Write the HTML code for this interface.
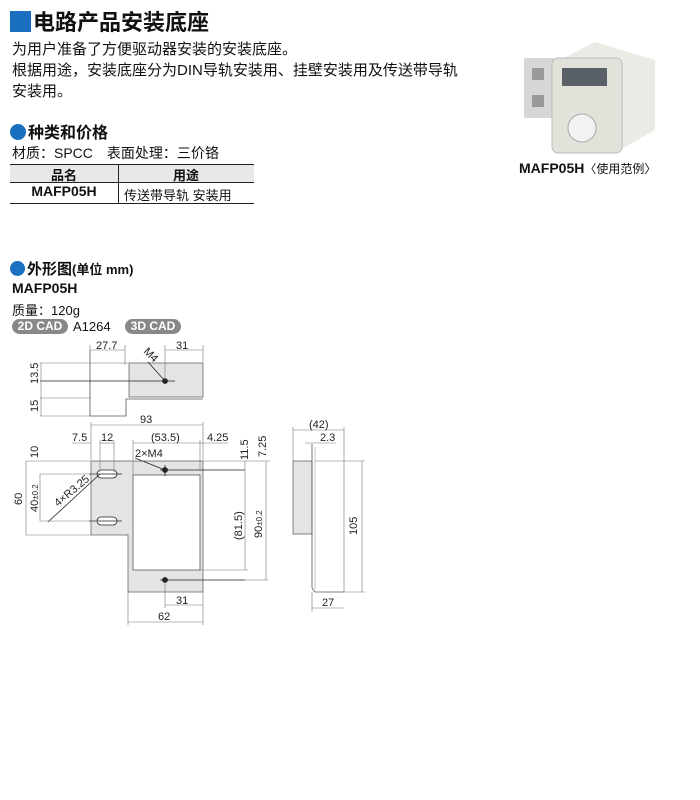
<!DOCTYPE html>
<html><head><meta charset="utf-8"><style>
body{margin:0;width:700px;height:800px;background:#fff;position:relative;font-family:"Liberation Sans","Noto Sans CJK SC",sans-serif;color:#111;overflow:hidden}
.a{position:absolute;white-space:nowrap}
</style></head><body>
<div class="a" style="left:10px;top:5px;font-size:22px;font-weight:bold"><span style="display:inline-block;width:21px;height:21px;background:#1a6fc0;vertical-align:-2px;margin-right:2px"></span>电路产品安装底座</div>
<div class="a" style="left:12px;top:39px;font-size:15px;line-height:21px">为用户准备了方便驱动器安装的安装底座。<br>根据用途，安装底座分为DIN导轨安装用、挂壁安装用及传送带导轨<br>安装用。</div>
<div class="a" style="left:10px;top:119px;font-size:16px;font-weight:bold"><span style="display:inline-block;width:16px;height:16px;border-radius:50%;background:#1a6fc0;vertical-align:-2px;margin-right:2px"></span>种类和价格</div>
<div class="a" style="left:12px;top:143px;font-size:14px">材质：SPCC　表面处理：三价铬</div>
<div class="a" style="left:10px;top:164px;width:244px;height:38px;border-top:1.5px solid #222;border-bottom:1.5px solid #222"></div>
<div class="a" style="left:10px;top:165px;width:244px;height:17px;background:#e8e8e8;border-bottom:1px solid #222"></div>
<div class="a" style="left:118px;top:165px;width:1px;height:38px;background:#222"></div>
<div class="a" style="left:10px;top:165px;width:108px;text-align:center;font-size:13px;font-weight:bold">品名</div>
<div class="a" style="left:118px;top:165px;width:136px;text-align:center;font-size:13px;font-weight:bold">用途</div>
<div class="a" style="left:10px;top:183px;width:108px;text-align:center;font-size:14px;font-weight:bold">MAFP05H</div>
<div class="a" style="left:124px;top:185px;font-size:13px">传送带导轨 安装用</div>

<svg class="a" style="left:520px;top:40px" width="140" height="115">
<rect x="4" y="18" width="30" height="60" fill="#d4d6d8"/>
<rect x="12" y="28" width="12" height="12" fill="#999"/><rect x="12" y="55" width="12" height="12" fill="#999"/>
<polygon points="40,20 75,2 135,20 135,90 100,110 40,95" fill="#eceae4"/>
<rect x="32" y="18" width="70" height="95" rx="6" fill="#e2e2da" stroke="#bbb"/>
<rect x="42" y="28" width="45" height="18" fill="#5a6068"/>
<circle cx="62" cy="88" r="14" fill="#f2f2f2" stroke="#aaa"/>
</svg>
<div class="a" style="left:519px;top:160px;font-size:14px;font-weight:bold">MAFP05H<span style="font-weight:normal;font-size:12px">〈使用范例〉</span></div>

<div class="a" style="left:10px;top:258px;font-size:15px;font-weight:bold"><span style="display:inline-block;width:15px;height:15px;border-radius:50%;background:#1a6fc0;vertical-align:-2px;margin-right:2px"></span>外形图<span style="font-size:13px">(单位 mm)</span></div>
<div class="a" style="left:12px;top:280px;font-size:14px;font-weight:bold">MAFP05H</div>
<div class="a" style="left:12px;top:300px;font-size:13px">质量：120g</div>
<div class="a" style="left:12px;top:319px;width:56px;height:15px;border-radius:8px;background:#888;color:#fff;font-size:12px;font-weight:bold;text-align:center;line-height:15px">2D CAD</div>
<div class="a" style="left:73px;top:319px;font-size:13px">A1264</div>
<div class="a" style="left:125px;top:319px;width:56px;height:15px;border-radius:8px;background:#888;color:#fff;font-size:12px;font-weight:bold;text-align:center;line-height:15px">3D CAD</div>

<svg class="a" style="left:0;top:0" width="700" height="800" font-family="Liberation Sans,sans-serif" font-size="11" fill="none" stroke="#222" stroke-width="0.8">
<rect x="129" y="363" width="74" height="34" fill="#e4e4e4" stroke="#666"/>
<polyline points="90,350 90,416 126,416 126,399 203,399" stroke="#555"/>
<line x1="40" y1="381" x2="175" y2="381"/>
<circle cx="165" cy="381" r="2.5" fill="#222"/>
<line x1="148" y1="362" x2="165" y2="381"/>
<g stroke="#777" stroke-width="0.6">
<line x1="90" y1="345" x2="90" y2="352"/><line x1="125" y1="345" x2="125" y2="365"/><line x1="90" y1="350" x2="125" y2="350"/>
<line x1="165" y1="350" x2="203" y2="350"/><line x1="165" y1="345" x2="165" y2="380"/><line x1="203" y1="345" x2="203" y2="362"/>
<line x1="40" y1="363" x2="128" y2="363"/><line x1="40" y1="398" x2="90" y2="398"/><line x1="40" y1="416" x2="90" y2="416"/>
<line x1="41" y1="363" x2="41" y2="416"/>
</g>
<path d="M91,461 H203 V592 H128 V535 H91 Z" fill="#e4e4e4" stroke="#666"/>
<rect x="133" y="475" width="67" height="95" fill="#fff" stroke="#555"/>
<rect x="97" y="470" width="20" height="8" rx="4" fill="#fff"/>
<rect x="97" y="517" width="20" height="8" rx="4" fill="#fff"/>
<line x1="89" y1="474" x2="122" y2="474"/><line x1="89" y1="521" x2="122" y2="521"/>
<circle cx="165" cy="470" r="2.5" fill="#222"/><circle cx="165" cy="580" r="2.5" fill="#222"/>
<line x1="165" y1="465" x2="165" y2="476"/><line x1="160" y1="580" x2="245" y2="580"/><line x1="160" y1="470" x2="245" y2="470"/>
<line x1="135" y1="458" x2="165" y2="470"/><line x1="48" y1="522" x2="100" y2="474"/>
<g stroke="#777" stroke-width="0.6">
<line x1="91" y1="425" x2="203" y2="425"/><line x1="91" y1="422" x2="91" y2="460"/><line x1="203" y1="422" x2="203" y2="460"/>
<line x1="72" y1="443" x2="91" y2="443"/><line x1="100" y1="443" x2="114" y2="443"/><line x1="100" y1="440" x2="100" y2="472"/><line x1="114" y1="440" x2="114" y2="472"/>
<line x1="133" y1="443" x2="228" y2="443"/><line x1="133" y1="440" x2="133" y2="475"/><line x1="200" y1="440" x2="200" y2="470"/>
<line x1="26" y1="461" x2="270" y2="461"/><line x1="26" y1="535" x2="91" y2="535"/><line x1="26" y1="461" x2="26" y2="535"/>
<line x1="40" y1="474" x2="40" y2="521"/><line x1="40" y1="474" x2="98" y2="474"/><line x1="40" y1="521" x2="98" y2="521"/>
<line x1="245" y1="461" x2="245" y2="570"/><line x1="200" y1="570" x2="248" y2="570"/>
<line x1="266" y1="461" x2="266" y2="580"/><line x1="245" y1="580" x2="268" y2="580"/>
<line x1="165" y1="605" x2="203" y2="605"/><line x1="165" y1="582" x2="165" y2="608"/><line x1="203" y1="592" x2="203" y2="625"/>
<line x1="128" y1="622" x2="203" y2="622"/><line x1="128" y1="592" x2="128" y2="625"/>
</g>
<rect x="293" y="461" width="19" height="73" fill="#e4e4e4" stroke="#666"/>
<polyline points="312,444 312,588 315,592 344,592" stroke="#555"/>
<line x1="315" y1="447" x2="315" y2="589" stroke="#888" stroke-width="0.5"/>
<g stroke="#777" stroke-width="0.6">
<line x1="293" y1="430" x2="344" y2="430"/><line x1="293" y1="427" x2="293" y2="461"/><line x1="344" y1="427" x2="344" y2="592"/>
<line x1="305" y1="443" x2="336" y2="443"/>
<line x1="315" y1="461" x2="365" y2="461"/><line x1="362" y1="461" x2="362" y2="592"/><line x1="344" y1="592" x2="365" y2="592"/>
<line x1="312" y1="608" x2="344" y2="608"/><line x1="312" y1="592" x2="312" y2="612"/>
</g>
<g fill="#222" stroke="none">
<text x="96" y="349">27.7</text><text x="176" y="349">31</text>
<text x="143" y="352" transform="rotate(45 143 352)">M4</text>
<text x="38" y="384" transform="rotate(-90 38 384)">13.5</text>
<text x="38" y="412" transform="rotate(-90 38 412)">15</text>
<text x="140" y="423">93</text>
<text x="72" y="441">7.5</text><text x="101" y="441">12</text><text x="151" y="441">(53.5)</text><text x="207" y="441">4.25</text>
<text x="135" y="457">2×M4</text>
<text x="38" y="458" transform="rotate(-90 38 458)">10</text>
<text x="22" y="505" transform="rotate(-90 22 505)">60</text>
<text x="38" y="512" transform="rotate(-90 38 512)">40<tspan font-size="8">±0.2</tspan></text>
<text x="58" y="507" transform="rotate(-40 58 507)">4×R3.25</text>
<text x="248" y="460" transform="rotate(-90 248 460)">11.5</text>
<text x="266" y="457" transform="rotate(-90 266 457)">7.25</text>
<text x="242" y="540" transform="rotate(-90 242 540)">(81.5)</text>
<text x="262" y="538" transform="rotate(-90 262 538)">90<tspan font-size="8">±0.2</tspan></text>
<text x="176" y="604">31</text><text x="158" y="620">62</text>
<text x="309" y="428">(42)</text><text x="320" y="441">2.3</text>
<text x="357" y="535" transform="rotate(-90 357 535)">105</text>
<text x="322" y="606">27</text>
</g>
</svg>
</body></html>
